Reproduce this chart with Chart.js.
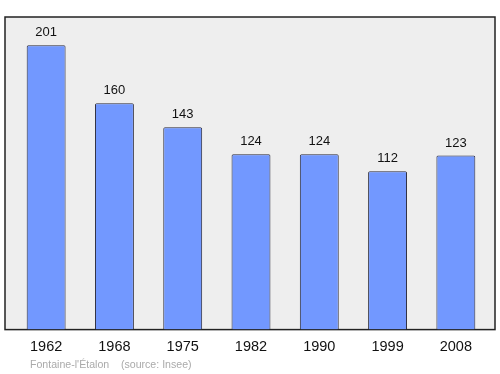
<!DOCTYPE html>
<html>
<head>
<meta charset="utf-8">
<script src="https://cdn.jsdelivr.net/npm/chart.js@4/dist/chart.umd.min.js"></script>
<style>
  html, body { margin: 0; padding: 0; background: #fff; }
  #wrap { position: relative; width: 500px; height: 374px; }
  #source { position: absolute; left: 30px; top: 358px; font: 10.6px "Liberation Sans", Arial, sans-serif; color: #aaa; white-space: pre; }
</style>
</head>
<body>
<div id="wrap">
  <canvas id="myChart" width="500" height="374"></canvas>
  <div id="source">Fontaine-l'Étalon    (source: Insee)</div>
</div>
<script>
var years = ["1962", "1968", "1975", "1982", "1990", "1999", "2008"];
var population = [201, 160, 143, 124, 124, 112, 123];

// grey panel with a black frame behind the bars
var framePlugin = {
  id: 'frame',
  beforeDraw: function (chart) {
    var a = chart.chartArea, ctx = chart.ctx;
    var x0 = a.left - 7, x1 = a.right + 5;
    ctx.save();
    ctx.fillStyle = '#eeeeee';
    ctx.fillRect(x0, a.top, x1 - x0, a.bottom - a.top);
    ctx.strokeStyle = '#222';
    ctx.lineWidth = 1.5;
    ctx.strokeRect(x0, a.top, x1 - x0, a.bottom - a.top);
    ctx.restore();
  }
};

// numbers above each bar
var valuePlugin = {
  id: 'values',
  afterDatasetsDraw: function (chart) {
    var ctx = chart.ctx;
    var meta = chart.getDatasetMeta(0);
    ctx.save();
    ctx.font = '13px "Liberation Sans", Arial, sans-serif';
    ctx.fillStyle = '#111';
    ctx.textAlign = 'center';
    ctx.textBaseline = 'alphabetic';
    meta.data.forEach(function (bar, i) {
      ctx.fillText(population[i], bar.x, bar.y - 9);
    });
    ctx.restore();
  }
};

new Chart(document.getElementById('myChart'), {
  type: 'bar',
  data: {
    labels: years,
    datasets: [{
      data: population,
      backgroundColor: '#7298ff',
      borderColor: '#2a2a3a',
      borderWidth: 1,
      borderRadius: 1.5,
      borderSkipped: 'bottom',
      categoryPercentage: 1,
      barPercentage: 0.57
    }]
  },
  options: {
    responsive: false,
    animation: false,
    layout: { padding: { left: 12, right: 10, top: 17, bottom: 9 } },
    plugins: { legend: { display: false }, tooltip: { enabled: false } },
    scales: {
      y: { display: false, min: 0, max: 221 },
      x: {
        grid: { display: false, drawTicks: false },
        border: { display: false },
        ticks: {
          color: '#111',
          padding: 9,
          font: { family: '"Liberation Sans", Arial, sans-serif', size: 14.5 }
        }
      }
    }
  },
  plugins: [framePlugin, valuePlugin]
});
</script>
</body>
</html>
